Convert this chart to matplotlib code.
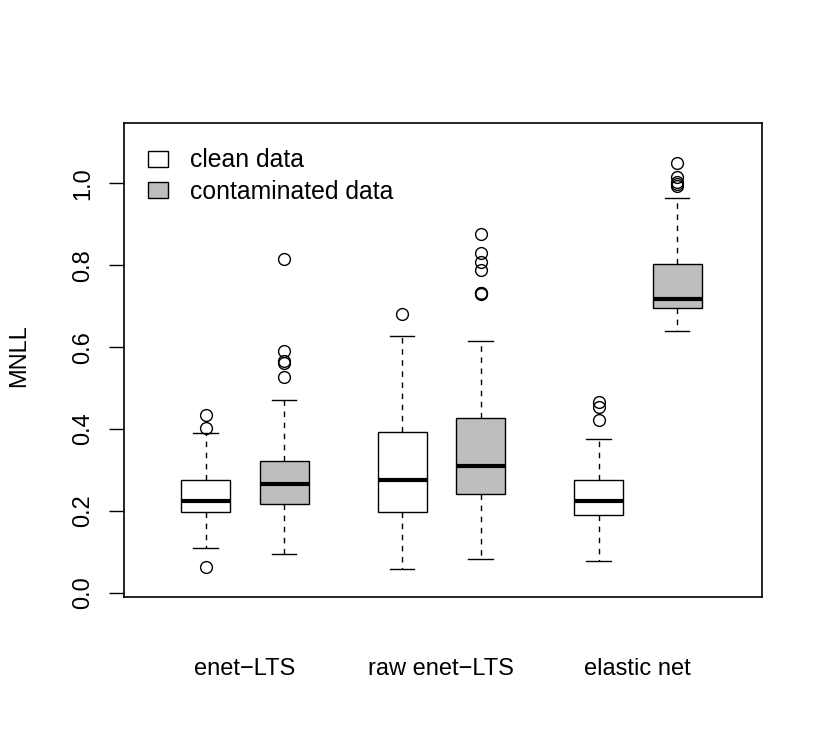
import numpy as np
import matplotlib.pyplot as plt
from matplotlib.patches import Patch

plt.rcParams['font.family'] = ['Liberation Sans', 'DejaVu Sans']
plt.rcParams['font.size'] = 17

methods = ['enet\u2212LTS', 'raw enet\u2212LTS', 'elastic net']
conditions = ['clean data', 'contaminated data']

# Box statistics
# order: enet-LTS clean, enet-LTS cont., raw clean, raw cont., elastic net clean, elastic net cont.
whis_low = [0.108, 0.095, 0.059, 0.082, 0.078, 0.639]
q1 = [0.196, 0.216, 0.198, 0.240, 0.189, 0.696]
medians = [0.225, 0.266, 0.275, 0.310, 0.225, 0.718]
q3 = [0.275, 0.322, 0.392, 0.4275, 0.275, 0.803]
whis_high = [0.389, 0.471, 0.628, 0.6155, 0.376, 0.963]
outliers = [
    [0.063, 0.402, 0.434],
    [0.527, 0.560, 0.567, 0.591, 0.814],
    [0.680],
    [0.730, 0.731, 0.733, 0.788, 0.809, 0.829, 0.876],
    [0.422, 0.454, 0.466],
    [0.994, 0.999, 1.004, 1.015, 1.050],
]

fill_colors = ['white', '#BEBEBE']
positions = [1, 2, 3.5, 4.5, 6, 7]

stats = []
for i in range(len(medians)):
    stats.append({'med': medians[i], 'q1': q1[i], 'q3': q3[i],
                  'whislo': whis_low[i], 'whishi': whis_high[i],
                  'fliers': outliers[i]})

fig = plt.figure(figsize=(8.25, 7.5), dpi=100)
ax = fig.add_axes([0.1497, 0.2044, 0.7739, 0.6312])

bp = ax.bxp(stats, positions=positions, widths=0.625, capwidths=0.31,
            patch_artist=True,
            boxprops=dict(linewidth=1.0, edgecolor='black'),
            whiskerprops=dict(linewidth=1.0, linestyle=(0, (4, 4)), color='black'),
            capprops=dict(linewidth=1.0, color='black'),
            medianprops=dict(linewidth=3.0, color='black', solid_capstyle='butt'),
            flierprops=dict(marker='o', markerfacecolor='none', markeredgecolor='black',
                            markersize=8.5, markeredgewidth=1.0))
for i, box in enumerate(bp['boxes']):
    box.set_facecolor(fill_colors[i % 2])

ax.set_xlim(-0.045, 8.08)
ax.set_ylim(-0.0098, 1.1466)

# group labels under each pair of boxes
group_centers = [np.mean(positions[2 * k:2 * k + 2]) for k in range(len(methods))]
ax.set_xticks(group_centers, methods)
ax.tick_params(axis='x', length=0, pad=44)

ax.set_yticks(np.arange(0, 1.01, 0.2))
ax.tick_params(axis='y', length=10.8, width=1.0, pad=10, labelrotation=90)
for lab in ax.get_yticklabels():
    lab.set_va('center')

ax.set_ylabel('MNLL')
ax.yaxis.set_label_coords(-0.1637, 0.51)
ax.yaxis.label.set_va('center')

for sp in ax.spines.values():
    sp.set_linewidth(1.2)

handles = [Patch(facecolor=c, edgecolor='black', linewidth=1.0) for c in fill_colors]
ax.legend(handles, conditions, loc='upper left', bbox_to_anchor=(0.0388, 0.947),
          frameon=False, fontsize=17.8, handlelength=0.78, handleheight=0.62,
          handletextpad=0.92, labelspacing=0.3, borderpad=0, borderaxespad=0)

plt.savefig('out.png', dpi=100)
